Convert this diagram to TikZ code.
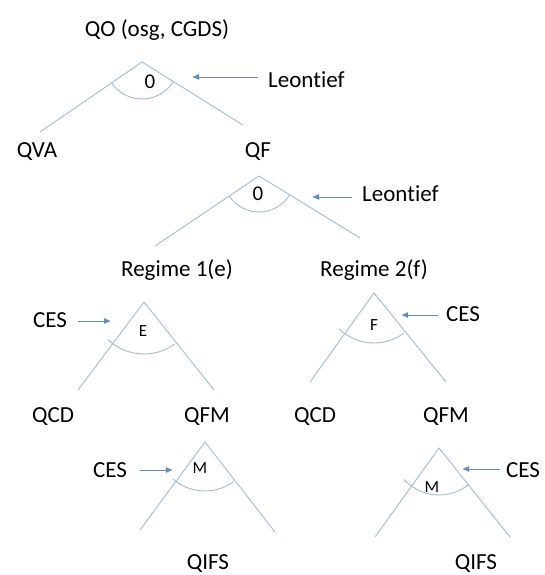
\documentclass[tikz,border=0pt]{standalone}
\usepackage{fontspec}
\setmainfont{Carlito}[Ligatures={NoCommon}]
\usetikzlibrary{arrows.meta}
\definecolor{branch}{HTML}{A3BAD0}
\definecolor{pointer}{HTML}{5F8FBE}
\begin{document}
\begin{tikzpicture}[x=1pt,y=-1pt,
  lbl/.style={inner sep=0pt,font=\fontsize{23}{27}\selectfont},
  arclbl/.style={inner sep=0pt,font=\fontsize{17}{20}\selectfont},
  zero/.style={inner sep=0pt,font=\fontsize{21}{24}\selectfont},
  branchline/.style={draw=branch,line width=0.9pt},
  pointerline/.style={draw=pointer,line width=0.9pt,-{Latex[length=7pt,width=6pt]}}]
\useasboundingbox (0,0) rectangle (544,575);
% tree 1
\node[lbl] (qo) at (157,30) {QO (osg, CGDS)};
\coordinate (a1) at (142,62);
\coordinate (a1l) at (40,132);
\coordinate (a1r) at (243,125);
\draw[branchline] (a1l) -- (a1) -- (a1r);
\draw[branchline] (a1) ++(145.5:37) arc[start angle=145.5,end angle=32,radius=37];
\node[zero] (z1) at (150,82) {0};
\node[lbl,anchor=west] (leo1) at (268,80) {Leontief};
\coordinate (p1s) at (258,77);
\coordinate (p1e) at (192,77);
\draw[pointerline] (p1s) -- (p1e);
\node[lbl] (qva) at (37,152) {QVA};
\node[lbl] (qf) at (258,152) {QF};
% tree 2
\coordinate (a2) at (259,176);
\coordinate (a2l) at (155,246);
\coordinate (a2r) at (360,238);
\draw[branchline] (a2l) -- (a2) -- (a2r);
\draw[branchline] (a2) ++(146:36) arc[start angle=146,end angle=31.5,radius=36];
\node[zero] (z2) at (258,194) {0};
\node[lbl,anchor=west] (leo2) at (362,194) {Leontief};
\coordinate (p2s) at (352,197);
\coordinate (p2e) at (312,197);
\draw[pointerline] (p2s) -- (p2e);
\node[lbl] (r1) at (177,270) {Regime 1(e)};
\node[lbl] (r2) at (374,270) {Regime 2(f)};
% tree 3
\coordinate (a3) at (144,302);
\coordinate (a3l) at (78,390);
\coordinate (a3r) at (214,390);
\draw[branchline] (a3l) -- (a3) -- (a3r);
\draw[branchline] (a3) ++(133.5:52) arc[start angle=133.5,end angle=54,radius=52];
\node[arclbl] (e) at (143,331) {E};
\node[lbl] (ces1) at (50,320) {CES};
\coordinate (p3s) at (78,321);
\coordinate (p3e) at (111,321);
\draw[pointerline] (p3s) -- (p3e);
% tree 4
\coordinate (a4) at (374,293);
\coordinate (a4l) at (310,382);
\coordinate (a4r) at (446,382);
\draw[branchline] (a4l) -- (a4) -- (a4r);
\draw[branchline] (a4) ++(134:50) arc[start angle=134,end angle=53,radius=50];
\node[arclbl] (f) at (374,325) {F};
\node[lbl,anchor=west] (ces2) at (446,314) {CES};
\coordinate (p4s) at (438,315);
\coordinate (p4e) at (401,315);
\draw[pointerline] (p4s) -- (p4e);
\node[lbl] (qcd1) at (53,417) {QCD};
\node[lbl] (qfm1) at (207,417) {QFM};
\node[lbl] (qcd2) at (315,417) {QCD};
\node[lbl] (qfm2) at (446,417) {QFM};
% tree 5
\coordinate (a5) at (205,442);
\coordinate (a5l) at (140,530);
\coordinate (a5r) at (275,532);
\draw[branchline] (a5l) -- (a5) -- (a5r);
\draw[branchline] (a5) ++(131:49) arc[start angle=131,end angle=54,radius=49];
\node[arclbl] (m1) at (200,468) {M};
\node[lbl] (ces3) at (110,470) {CES};
\coordinate (p5s) at (140,470);
\coordinate (p5e) at (173,470);
\draw[pointerline] (p5s) -- (p5e);
\node[lbl] (qifs1) at (208,564) {QIFS};
% tree 6
\coordinate (a6) at (439,448);
\coordinate (a6l) at (375,537);
\coordinate (a6r) at (510,537);
\draw[branchline] (a6l) -- (a6) -- (a6r);
\draw[branchline] (a6) ++(138:47) arc[start angle=138,end angle=50,radius=47];
\node[arclbl] (m2) at (432,487) {M};
\node[lbl,anchor=west] (ces4) at (506,470) {CES};
\coordinate (p6s) at (500,469);
\coordinate (p6e) at (462,469);
\draw[pointerline] (p6s) -- (p6e);
\node[lbl] (qifs2) at (476,564) {QIFS};
\end{tikzpicture}
\end{document}
